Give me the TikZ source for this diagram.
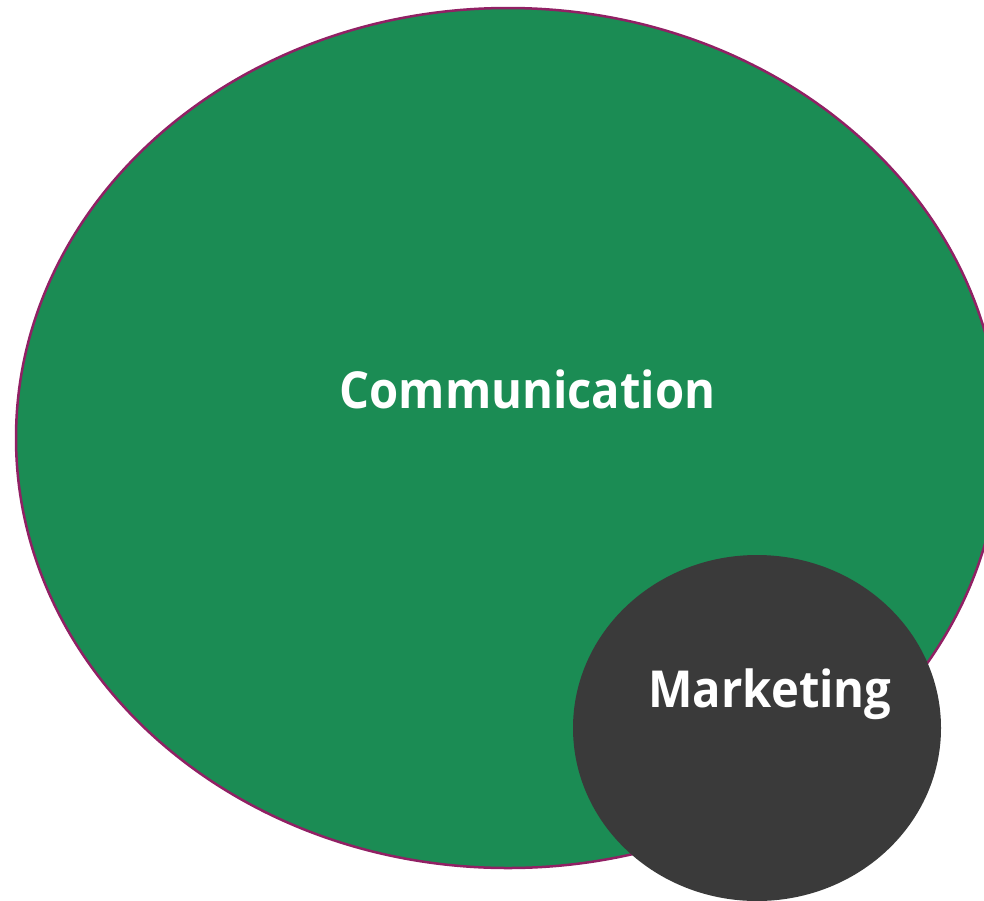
\documentclass[tikz,border=0pt]{standalone}
\usepackage{fontspec}
\setmainfont{Open Sans}
\definecolor{commgreen}{RGB}{27,140,84}
\definecolor{rimpurple}{RGB}{145,32,100}
\definecolor{darkgrey}{RGB}{58,58,58}
\newcommand{\narrowtext}[1]{\scalebox{0.925}[1]{#1}}
\begin{document}
\begin{tikzpicture}[x=1pt,y=-1pt,
  lbl/.style={text=white,font=\fontsize{51}{60}\selectfont\bfseries,anchor=base,inner sep=0pt}]
\useasboundingbox (0,0) rectangle (984,900);
\begin{scope}
\clip (0,0) rectangle (984,900);
\fill[commgreen,draw=rimpurple,line width=2.5pt] (508,438) ellipse [x radius=492,y radius=430];
\fill[darkgrey] (757,728) ellipse [x radius=184,y radius=173];
\end{scope}
\node[lbl] (comm) at (527.5,408) {\narrowtext{Communication}};
\node[lbl] (mkt) at (770,707) {\narrowtext{Marketing}};
\end{tikzpicture}
\end{document}
